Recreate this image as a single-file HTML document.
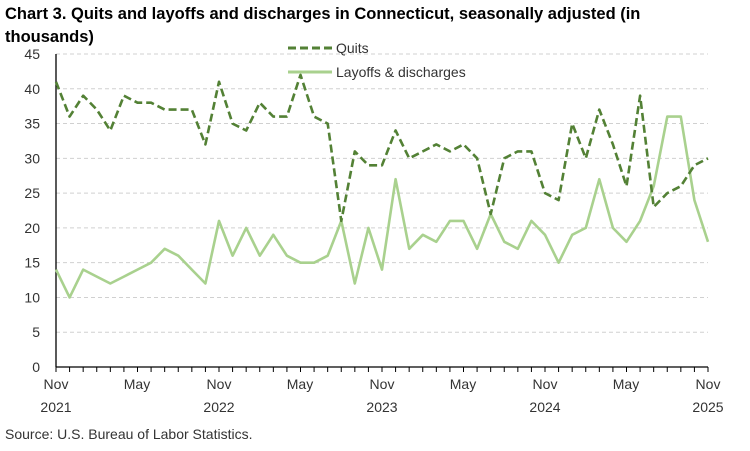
<!DOCTYPE html>
<html><head><meta charset="utf-8"><style>
body{margin:0;background:#fff;width:750px;height:446px;overflow:hidden;font-family:"Liberation Sans",sans-serif}
</style></head><body>
<svg width="750" height="446" xmlns="http://www.w3.org/2000/svg" font-family="Liberation Sans, sans-serif">
<text x="5" y="19" font-size="16.5" font-weight="bold" fill="#000">Chart 3. Quits and layoffs and discharges in Connecticut, seasonally adjusted (in</text>
<text x="5" y="42" font-size="16.5" font-weight="bold" fill="#000">thousands)</text>
<line x1="288" y1="48" x2="332" y2="48" stroke="#538135" stroke-width="3" stroke-dasharray="8,4"/>
<text x="336" y="53" font-size="14" fill="#333">Quits</text>
<line x1="288" y1="72" x2="332" y2="72" stroke="#a9d18e" stroke-width="3"/>
<text x="336" y="77" font-size="14" fill="#333">Layoffs &amp; discharges</text>
<g id="grid"></g>
<g font-size="14" fill="#333" text-anchor="end" id="ylab"></g>
<line x1="56" y1="54" x2="56" y2="367" stroke="#000" stroke-width="1.3"/>
<line x1="56" y1="367" x2="708" y2="367" stroke="#000" stroke-width="1.3"/>
<g id="ticks" stroke="#000" stroke-width="1"></g>
<g font-size="14" fill="#333" text-anchor="middle">
<text x="56" y="389">Nov</text><text x="56" y="412">2021</text>
<text x="137" y="389">May</text>
<text x="219" y="389">Nov</text><text x="219" y="412">2022</text>
<text x="300" y="389">May</text>
<text x="382" y="389">Nov</text><text x="382" y="412">2023</text>
<text x="463" y="389">May</text>
<text x="545" y="389">Nov</text><text x="545" y="412">2024</text>
<text x="626" y="389">May</text>
<text x="708" y="389">Nov</text><text x="708" y="412">2025</text>
</g>
<text x="5" y="439" font-size="14" fill="#333">Source: U.S. Bureau of Labor Statistics.</text>
<polyline id="lay" fill="none" stroke="#a9d18e" stroke-width="2.6" stroke-linejoin="round"/>
<polyline id="quit" fill="none" stroke="#538135" stroke-width="2.6" stroke-dasharray="8,4" stroke-linejoin="round"/>
</svg>
<script>
var q=[41,36,39,37,34,39,38,38,37,37,37,32,41,35,34,38,36,36,42,36,35,21,31,29,29,34,30,31,32,31,32,30,22,30,31,31,25,24,35,30,37,32,26,39,23,25,26,29,30];
var l=[14,10,14,13,12,13,14,15,17,16,14,12,21,16,20,16,19,16,15,15,16,21,12,20,14,27,17,19,18,21,21,17,22,18,17,21,19,15,19,20,27,20,18,21,26,36,36,24,18];
function X(i){return 56+i*(652/48)}function Y(v){return 367-v*313/45}
function pts(a){return a.map(function(v,i){return X(i).toFixed(1)+","+Y(v).toFixed(1)}).join(" ")}
document.getElementById("quit").setAttribute("points",pts(q));
document.getElementById("lay").setAttribute("points",pts(l));
var ns="http://www.w3.org/2000/svg",g=document.getElementById("grid"),yl=document.getElementById("ylab"),tk=document.getElementById("ticks");
for(var v=5;v<=45;v+=5){var e=document.createElementNS(ns,"line");e.setAttribute("x1",56);e.setAttribute("x2",708);e.setAttribute("y1",Y(v));e.setAttribute("y2",Y(v));e.setAttribute("stroke","#d0d0d0");e.setAttribute("stroke-dasharray","4,3");g.appendChild(e);}
for(var v=0;v<=45;v+=5){var t=document.createElementNS(ns,"text");t.setAttribute("x",40);t.setAttribute("y",Y(v)+5);t.textContent=v;yl.appendChild(t);}
for(var i=0;i<=48;i++){var e=document.createElementNS(ns,"line");e.setAttribute("x1",X(i));e.setAttribute("x2",X(i));e.setAttribute("y1",367);e.setAttribute("y2",372);tk.appendChild(e);}
</script>
</body></html>
